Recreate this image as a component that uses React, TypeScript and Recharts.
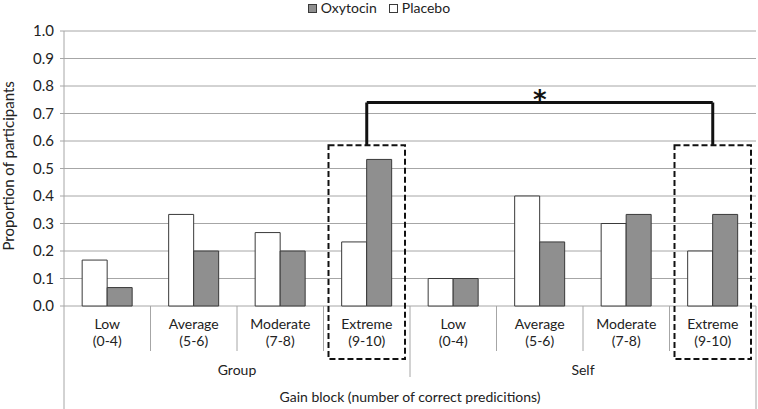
import React from 'react';
import {
  BarChart, Bar, XAxis, YAxis, CartesianGrid, ReferenceArea, ReferenceLine,
} from 'recharts';

const groups = ['Group', 'Self'];
const levels = ['Low', 'Average', 'Moderate', 'Extreme'];
const ranges = ['(0-4)', '(5-6)', '(7-8)', '(9-10)'];
const placebo = [0.167, 0.333, 0.267, 0.233, 0.1, 0.4, 0.3, 0.2];
const oxytocin = [0.067, 0.2, 0.2, 0.533, 0.1, 0.233, 0.333, 0.333];
const yTicks = [0, 0.1, 0.2, 0.3, 0.4, 0.5, 0.6, 0.7, 0.8, 0.9, 1.0];
const axisTitle = 'Gain block (number of correct predicitions)';
const yTitle = 'Proportion of participants';

const data = groups.flatMap((g, gi) =>
  levels.map((l, li) => ({
    key: `${g} ${l}`,
    group: g,
    level: l,
    range: ranges[li],
    Placebo: placebo[gi * levels.length + li],
    Oxytocin: oxytocin[gi * levels.length + li],
  }))
);

const FONT = 'Lato, Open Sans, sans-serif';
const FS = 14;
const GRAY = '#8f8f8f';
const EDGE = '#3a3a3a';
const LINE = '#a6a6a6';

const CatTick = (props: any) => {
  const { x, y, payload, index } = props;
  const half = payload && payload.offset ? payload.offset : 43.25;
  const d = data[index];
  if (!d) return null;
  const top = y - 8;
  const n = levels.length;
  const isGroupStart = index % n === 0;
  const isLast = index === data.length - 1;
  const left = x - half;
  const right = x + half;
  const elems: any[] = [];
  elems.push(
    <text key="l1" x={x} y={top + 23} textAnchor="middle" fontSize={FS} fill="#222" fontFamily={FONT}>{d.level}</text>,
    <text key="l2" x={x} y={top + 40} textAnchor="middle" fontSize={FS} fill="#222" fontFamily={FONT}>{d.range}</text>
  );
  if (index === 0) {
    elems.push(<line key="s" x1={left} x2={left} y1={top} y2={409} stroke={LINE} />);
  } else if (isGroupStart) {
    elems.push(<line key="s" x1={left} x2={left} y1={top} y2={top + 71} stroke={LINE} />);
  } else {
    elems.push(<line key="s" x1={left} x2={left} y1={top} y2={top + 45} stroke={LINE} />);
  }
  if (isLast) {
    elems.push(<line key="r" x1={right} x2={right} y1={top} y2={409} stroke={LINE} />);
  }
  if (isGroupStart) {
    const cx = left + half * n;
    elems.push(
      <text key="g" x={cx} y={top + 69} textAnchor="middle" fontSize={FS} fill="#222" fontFamily={FONT}>{d.group}</text>
    );
  }
  if (index === 0) {
    const cx = left + half * data.length;
    elems.push(
      <text key="t" x={cx} y={top + 96} textAnchor="middle" fontSize={FS} fill="#222" fontFamily={FONT}>{axisTitle}</text>
    );
  }
  return <g>{elems}</g>;
};

const InsetBox = (props: any) => {
  const { x, y, width, height } = props;
  return (
    <rect x={x + 5} y={y} width={width - 10} height={height} fill="none"
      stroke="#111" strokeWidth={2} strokeDasharray="6 3" />
  );
};

const Legend = () => (
  <div style={{ position: 'absolute', left: 0, top: 0, width: 758, textAlign: 'center', fontFamily: FONT, fontSize: FS, color: '#222', lineHeight: '16px' }}>
    <span style={{ display: 'inline-block' }}>
      <span style={{ display: 'inline-block', width: 7, height: 7, background: GRAY, border: `1px solid ${EDGE}`, marginRight: 4, verticalAlign: 0 }} />
      Oxytocin
    </span>
    <span style={{ display: 'inline-block', marginLeft: 12 }}>
      <span style={{ display: 'inline-block', width: 7, height: 7, background: '#fff', border: `1px solid ${EDGE}`, marginRight: 4, verticalAlign: 0 }} />
      Placebo
    </span>
  </div>
);

export default function App() {
  return (
    <div style={{ position: 'absolute', left: 0, top: 0, width: 758, height: 409, background: '#fff' }}>
      <BarChart width={758} height={409} data={data}
        margin={{ top: 31, right: 2, left: 0, bottom: 0 }}
        barCategoryGap="21%" barGap={0}>
        <CartesianGrid vertical={false} stroke={LINE} />
        <YAxis type="number" domain={[0, 1]} ticks={yTicks} width={64}
          tickFormatter={(v: number) => v.toFixed(1)}
          tick={{ fontSize: 15, fill: '#222', fontFamily: FONT }}
          axisLine={{ stroke: LINE }} tickLine={{ stroke: LINE }} tickSize={4} tickMargin={6}
          label={{ value: yTitle, angle: -90, position: 'insideLeft', dx: 4, dy: 82, style: { fontSize: 15, fill: '#222', fontFamily: FONT } }} />
        <XAxis dataKey="key" height={103} interval={0} axisLine={false} tickLine={false}
          tick={<CatTick />} />
        <Bar dataKey="Placebo" fill="#ffffff" stroke={EDGE} strokeWidth={1} isAnimationActive={false} />
        <Bar dataKey="Oxytocin" fill={GRAY} stroke={EDGE} strokeWidth={1} isAnimationActive={false} />
        <ReferenceArea x1="Group Extreme" x2="Group Extreme" y1={-0.193} y2={0.585}
          ifOverflow="visible" shape={<InsetBox />} />
        <ReferenceArea x1="Self Extreme" x2="Self Extreme" y1={-0.193} y2={0.585}
          ifOverflow="visible" shape={<InsetBox />} />
        <ReferenceLine segment={[{ x: 'Group Extreme', y: 0.585 }, { x: 'Group Extreme', y: 0.74 }]}
          stroke="#111" strokeWidth={3} ifOverflow="visible" />
        <ReferenceLine segment={[{ x: 'Group Extreme', y: 0.74 }, { x: 'Self Extreme', y: 0.74 }]}
          stroke="#111" strokeWidth={3} ifOverflow="visible"
          label={{ value: '*', position: 'top', offset: -6, style: { fontSize: 26, fontWeight: 'bold', fill: '#111', fontFamily: 'DejaVu Sans, sans-serif' } }} />
        <ReferenceLine segment={[{ x: 'Self Extreme', y: 0.74 }, { x: 'Self Extreme', y: 0.585 }]}
          stroke="#111" strokeWidth={3} ifOverflow="visible" />
      </BarChart>
      <Legend />
    </div>
  );
}
